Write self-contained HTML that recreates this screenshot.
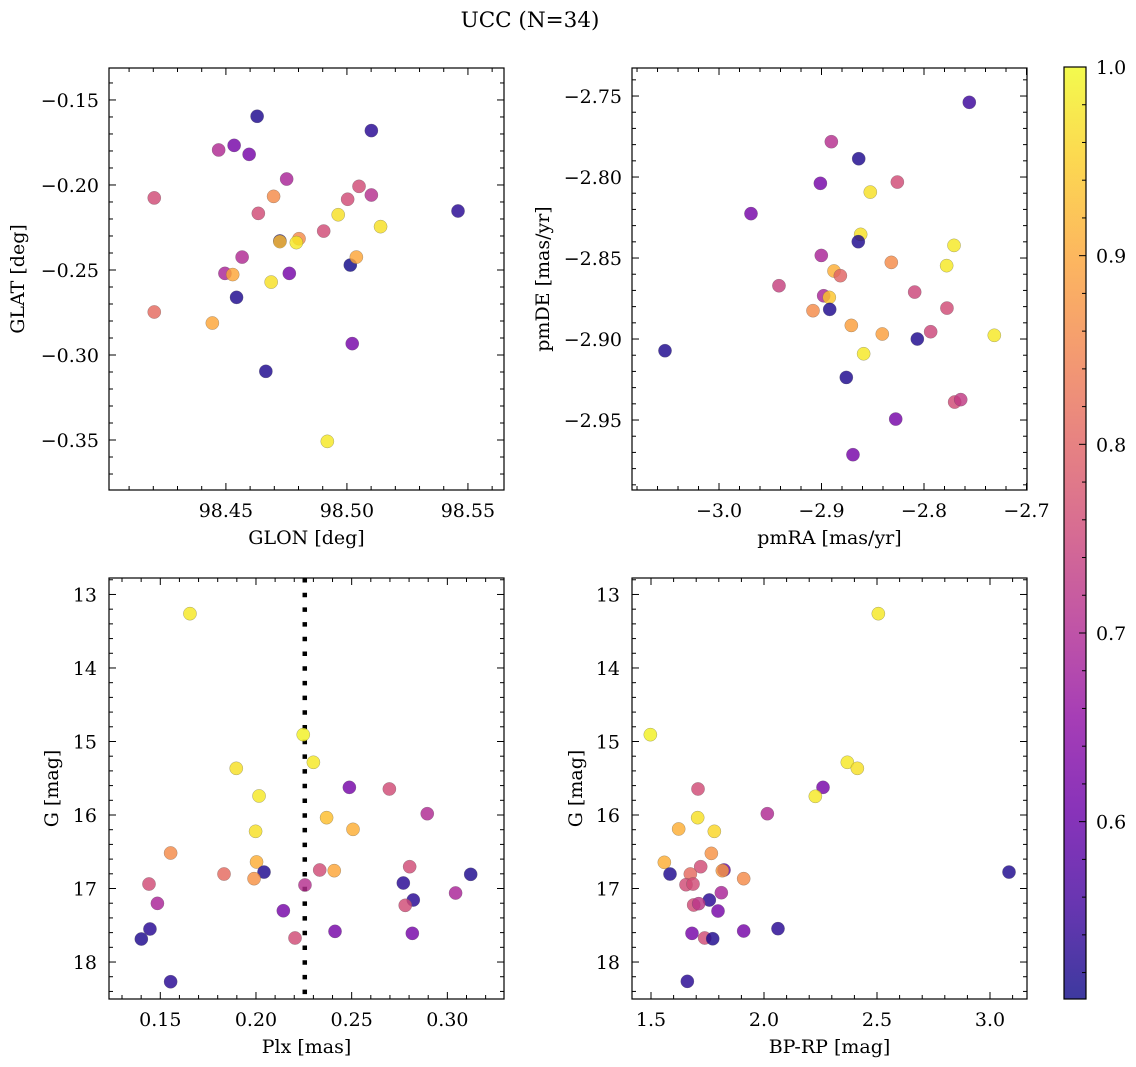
<!DOCTYPE html>
<html><head><meta charset="utf-8"><style>
html,body{margin:0;padding:0;background:#fff;}
svg{display:block;font-family:"DejaVu Serif","Liberation Serif",serif;}
</style></head><body>
<svg id="fig" width="1136" height="1067" viewBox="0 0 1136 1067" xmlns="http://www.w3.org/2000/svg">
<rect width="1136" height="1067" fill="#fff"/>
<text x="530" y="27" font-size="21.5" text-anchor="middle">UCC (N=34)</text>
</svg>
<script>
// ---- data ----
const p1Glon=[98.4629,98.5101,98.4534,98.4470,98.4596,98.4751,98.5050,98.4204,98.4697,98.5101,98.5003,98.4634,98.5459,98.4964,98.5139,98.4904,98.4723,98.4802,98.4723,98.4791,98.4567,98.4496,98.4528,98.4762,98.5014,98.5039,98.4687,98.4544,98.4204,98.4444,98.5022,98.4665,98.4919];
const p1Glat=[-0.1596,-0.1680,-0.1767,-0.1794,-0.1820,-0.1965,-0.2008,-0.2076,-0.2067,-0.2059,-0.2084,-0.2167,-0.2153,-0.2175,-0.2245,-0.2271,-0.2329,-0.2316,-0.2333,-0.2339,-0.2424,-0.2520,-0.2527,-0.2520,-0.2471,-0.2424,-0.2571,-0.2661,-0.2747,-0.2812,-0.2933,-0.3096,-0.3508];
const p1Prob=[0.52,0.53,0.62,0.70,0.62,0.69,0.76,0.76,0.86,0.71,0.76,0.76,0.53,0.97,0.97,0.76,0.52,0.86,0.93,0.98,0.70,0.69,0.90,0.62,0.51,0.90,0.97,0.52,0.81,0.90,0.62,0.52,0.98];

const p2PmRA=[-2.7558,-2.8904,-2.8637,-2.9011,-2.8260,-2.8524,-2.9688,-2.8618,-2.8641,-2.7707,-2.9002,-2.8319,-2.7779,-2.8878,-2.8816,-2.9415,-2.8091,-2.8979,-2.8924,-2.9083,-2.8920,-2.7776,-2.8709,-2.8407,-2.7935,-2.7314,-2.8065,-2.8589,-3.0527,-2.8758,-2.7701,-2.7642,-2.8276,-2.8693];
const p2PmDE=[-2.7539,-2.7782,-2.7887,-2.8039,-2.8031,-2.8093,-2.8226,-2.8354,-2.8399,-2.8422,-2.8484,-2.8527,-2.8547,-2.8580,-2.8609,-2.8671,-2.8710,-2.8733,-2.8743,-2.8825,-2.8817,-2.8809,-2.8916,-2.8969,-2.8955,-2.8977,-2.9000,-2.9091,-2.9072,-2.9237,-2.9389,-2.9374,-2.9494,-2.9714];
const p2Prob=[0.55,0.71,0.52,0.62,0.76,0.97,0.62,0.97,0.52,0.98,0.69,0.86,0.98,0.91,0.80,0.74,0.75,0.69,0.94,0.86,0.52,0.76,0.89,0.89,0.75,0.98,0.52,0.98,0.52,0.52,0.76,0.73,0.62,0.62];

const p3Plx=[0.1655,0.2247,0.2300,0.1897,0.2016,0.2488,0.2697,0.2895,0.2369,0.2507,0.1998,0.1554,0.2003,0.2042,0.1833,0.2333,0.2409,0.2803,0.3122,0.1990,0.1441,0.2256,0.2770,0.3043,0.2822,0.2780,0.1485,0.2143,0.1446,0.2413,0.2817,0.1401,0.2204,0.1554];
const p3G=[13.261,14.907,15.283,15.365,15.741,15.624,15.646,15.982,16.036,16.195,16.222,16.517,16.639,16.776,16.803,16.748,16.757,16.703,16.807,16.866,16.939,16.952,16.925,17.061,17.156,17.229,17.202,17.302,17.551,17.583,17.610,17.687,17.673,18.268];
const p3Prob=[0.98,0.99,0.98,0.97,0.98,0.62,0.76,0.70,0.93,0.91,0.97,0.86,0.91,0.52,0.81,0.76,0.90,0.76,0.52,0.87,0.76,0.71,0.53,0.69,0.53,0.76,0.69,0.62,0.53,0.62,0.62,0.52,0.76,0.53];

const p4BpRp=[2.5059,1.4971,2.3687,2.4130,2.2611,2.2271,1.7080,2.0147,1.7065,1.6224,1.7802,1.7670,1.5590,1.7198,1.8230,1.8156,1.5841,1.9100,3.0841,1.6740,1.6549,1.6858,1.8112,1.7581,1.6888,1.7109,1.7965,1.6814,1.7375,1.7729,1.9100,2.0619,1.6608];
const p4G=[13.261,14.907,15.283,15.365,15.624,15.746,15.646,15.982,16.036,16.190,16.222,16.522,16.644,16.703,16.748,16.757,16.803,16.866,16.776,16.803,16.948,16.939,17.057,17.156,17.224,17.206,17.306,17.610,17.673,17.683,17.578,17.546,18.263];
const p4Prob=[0.98,0.99,0.98,0.97,0.62,0.98,0.76,0.70,0.97,0.91,0.96,0.87,0.91,0.76,0.60,0.88,0.52,0.86,0.52,0.81,0.76,0.76,0.69,0.53,0.76,0.72,0.62,0.62,0.76,0.52,0.62,0.53,0.53];

const cbTicks=[0.6,0.7,0.8,0.9,1.0];
const plxLine=0.2255;

// ---- helpers ----
const NS="http://www.w3.org/2000/svg";
const svg=document.getElementById('fig');
const FS=19;
function mk(tag,attrs,parent){const e=document.createElementNS(NS,tag);for(const k in attrs)e.setAttribute(k,attrs[k]);(parent||svg).appendChild(e);return e;}
const plasma=[[13,8,135],[65,4,157],[106,0,168],[143,13,164],[177,42,144],[204,71,120],[225,100,98],[242,132,75],[252,166,54],[252,206,37],[240,249,33]];
const VMIN=0.506,VMAX=1.0;
function cmap(v){let t=(v-VMIN)/(VMAX-VMIN);t=Math.max(0,Math.min(1,t));const f=t*10,i=Math.min(9,Math.floor(f)),r=f-i;const a=plasma[i],b=plasma[i+1];return `rgb(${Math.round(a[0]+(b[0]-a[0])*r)},${Math.round(a[1]+(b[1]-a[1])*r)},${Math.round(a[2]+(b[2]-a[2])*r)})`;}
function fmt(v,d){const s=Math.abs(v).toFixed(d);return (v<-1e-9?'\u2212':'')+s;}

function panel(cfg){
  const {x0,x1,y0,y1,xmin,xmax,ymin,ymax,name}=cfg;
  const g=mk('g',{});
  
  
  const sx=v=>x0+(v-xmin)/(xmax-xmin)*(x1-x0);
  const sy=v=>y1-(v-ymin)/(ymax-ymin)*(y1-y0);
  const tg=mk('g',{stroke:'#000','stroke-width':1},g);
  const xs=cfg.xstep, ys=cfg.ystep;
  for(let k=Math.ceil(xmin/(xs/5)-1e-6);k*xs/5<=xmax+1e-9;k++){
    const v=k*xs/5, X=sx(v); const major=Math.abs(k%5)===0; const L=major?7:4;
    mk('line',{x1:X,y1:y1,x2:X,y2:y1-L},tg); mk('line',{x1:X,y1:y0,x2:X,y2:y0+L},tg);
    if(major){const t=mk('text',{x:X,y:y1+27,'font-size':FS,'text-anchor':'middle',stroke:'none',fill:'#000'},g);t.textContent=fmt(v,cfg.xdec);
      
      }
  }
  for(let k=Math.ceil(ymin/(ys/5)-1e-6);k*ys/5<=ymax+1e-9;k++){
    const v=k*ys/5, Y=sy(v); const major=Math.abs(k%5)===0; const L=major?7:4;
    mk('line',{x1:x0,y1:Y,x2:x0+L,y2:Y},tg); mk('line',{x1:x1,y1:Y,x2:x1-L,y2:Y},tg);
    if(major){const t=mk('text',{x:x0-10,y:Y+7,'font-size':FS,'text-anchor':'end',stroke:'none',fill:'#000'},g);t.textContent=fmt(v,cfg.ydec);
      
      }
  }
  const xl=mk('text',{x:(x0+x1)/2,y:y1+54,'font-size':FS,'text-anchor':'middle'},g);xl.textContent=cfg.xlabel;
  
  
  const yx=cfg.ylabx, yc=(y0+y1)/2;
  const yl=mk('text',{x:yx,y:yc,'font-size':FS,'text-anchor':'middle',transform:`rotate(-90 ${yx} ${yc})`},g);yl.textContent=cfg.ylabel;
  
  
  const pg=mk('g',{},g);
  for(let i=0;i<cfg.xs.length;i++){
    const c=mk('circle',{cx:sx(cfg.xs[i]),cy:sy(cfg.ys[i]),r:6.6,fill:cmap(cfg.cs[i]),'fill-opacity':0.82,stroke:'#555','stroke-opacity':0.5,'stroke-width':0.5},pg);
    
    
  }
  const fr=mk('rect',{x:x0,y:y0,width:x1-x0,height:y1-y0,fill:'none',stroke:'#000','stroke-width':1.2},g);
  
  
}

panel({name:'glon-glat',x0:109,x1:504,y0:68,y1:490,xmin:98.4017,xmax:98.5649,ymin:-0.3794,ymax:-0.1312,xstep:0.05,ystep:0.05,xdec:2,ydec:2,xlabel:'GLON [deg]',ylabel:'GLAT [deg]',ylabx:24,xs:p1Glon,ys:p1Glat,cs:p1Prob});
panel({name:'pm',x0:632,x1:1027,y0:68,y1:490,xmin:-3.0849,xmax:-2.6995,ymin:-2.9932,ymax:-2.7327,xstep:0.1,ystep:0.05,xdec:1,ydec:2,xlabel:'pmRA [mas/yr]',ylabel:'pmDE [mas/yr]',ylabx:549,xs:p2PmRA,ys:p2PmDE,cs:p2Prob});

function invPanel(cfg){
  const {x0,x1,y0,y1,xmin,xmax,gmin,gmax}=cfg;
  const g=mk('g',{});
  
  
  const sx=v=>x0+(v-xmin)/(xmax-xmin)*(x1-x0);
  const sy=v=>y0+(v-gmin)/(gmax-gmin)*(y1-y0);
  const tg=mk('g',{stroke:'#000','stroke-width':1},g);
  const xs=cfg.xstep;
  for(let k=Math.ceil(xmin/(xs/5)-1e-6);k*xs/5<=xmax+1e-9;k++){
    const v=k*xs/5,X=sx(v),major=Math.abs(k%5)===0,L=major?7:4;
    mk('line',{x1:X,y1:y1,x2:X,y2:y1-L},tg);mk('line',{x1:X,y1:y0,x2:X,y2:y0+L},tg);
    if(major){const t=mk('text',{x:X,y:y1+27,'font-size':FS,'text-anchor':'middle',stroke:'none'},g);t.textContent=fmt(v,cfg.xdec);
      
      }
  }
  for(let k=Math.ceil(gmin/0.2-1e-6);k*0.2<=gmax+1e-9;k++){
    const v=k*0.2,Y=sy(v),major=Math.abs(k%5)===0,L=major?7:4;
    mk('line',{x1:x0,y1:Y,x2:x0+L,y2:Y},tg);mk('line',{x1:x1,y1:Y,x2:x1-L,y2:Y},tg);
    if(major){const t=mk('text',{x:x0-12,y:Y+7,'font-size':FS,'text-anchor':'end',stroke:'none'},g);t.textContent=Math.round(v);
      
      }
  }
  const xl=mk('text',{x:(x0+x1)/2,y:y1+54,'font-size':FS,'text-anchor':'middle'},g);xl.textContent=cfg.xlabel;
  
  
  const yx=cfg.ylabx,yc=(y0+y1)/2;
  const yl=mk('text',{x:yx,y:yc,'font-size':FS,'text-anchor':'middle',transform:`rotate(-90 ${yx} ${yc})`},g);yl.textContent='G [mag]';
  
  
  if(cfg.vline!==undefined){const X=sx(cfg.vline);
    const l=mk('line',{x1:X,y1:y0,x2:X,y2:y1,stroke:'#000','stroke-width':4.5,'stroke-dasharray':'4.5 10.2'},g);
    
    }
  const pg=mk('g',{},g);
  for(let i=0;i<cfg.xs.length;i++){
    const c=mk('circle',{cx:sx(cfg.xs[i]),cy:sy(cfg.ys[i]),r:6.6,fill:cmap(cfg.cs[i]),'fill-opacity':0.82,stroke:'#555','stroke-opacity':0.5,'stroke-width':0.5},pg);
    
    
  }
  const fr=mk('rect',{x:x0,y:y0,width:x1-x0,height:y1-y0,fill:'none',stroke:'#000','stroke-width':1.2},g);
  
  
}
invPanel({name:'plx-g',x0:109,x1:504,y0:578,y1:999,xmin:0.1232,xmax:0.3296,gmin:12.776,gmax:18.503,xstep:0.05,xdec:2,xlabel:'Plx [mas]',ylabx:58,vline:plxLine,xs:p3Plx,ys:p3G,cs:p3Prob});
invPanel({name:'cmd',x0:632,x1:1027,y0:578,y1:999,xmin:1.4159,xmax:3.1637,gmin:12.776,gmax:18.503,xstep:0.5,xdec:1,xlabel:'BP-RP [mag]',ylabx:582,xs:p4BpRp,ys:p4G,cs:p4Prob});

// ---- colorbar ----
(function(){
  const cx0=1064,cx1=1086,cy0=67,cy1=999;
  const g=mk('g',{});
  
  
  const defs=mk('defs',{},g);
  const lg=mk('linearGradient',{id:'cbg',x1:0,y1:1,x2:0,y2:0},defs);
  for(let i=0;i<=20;i++){const v=VMIN+(VMAX-VMIN)*i/20;mk('stop',{offset:(i/20),'stop-color':cmap(v)},lg);}
  mk('rect',{x:cx0,y:cy0,width:cx1-cx0,height:cy1-cy0,fill:'url(#cbg)','fill-opacity':0.8},g);
  const sy=v=>cy1-(v-VMIN)/(VMAX-VMIN)*(cy1-cy0);
  for(let k=Math.ceil(VMIN/0.02-1e-6);k*0.02<=VMAX+1e-9;k++){
    const v=k*0.02,Y=sy(v),major=k%5===0;
    mk('line',{x1:cx1,y1:Y,x2:cx1-(major?7:4),y2:Y,stroke:'#000','stroke-width':1},g);
  }
  for(const v of cbTicks){
    const t=mk('text',{x:cx1+10,y:sy(v)+7,'font-size':FS},g);t.textContent=v.toFixed(1);
    
    
  }
  mk('rect',{x:cx0,y:cy0,width:cx1-cx0,height:cy1-cy0,fill:'none',stroke:'#000','stroke-width':1.2},g);
})();
</script>
</body></html>
